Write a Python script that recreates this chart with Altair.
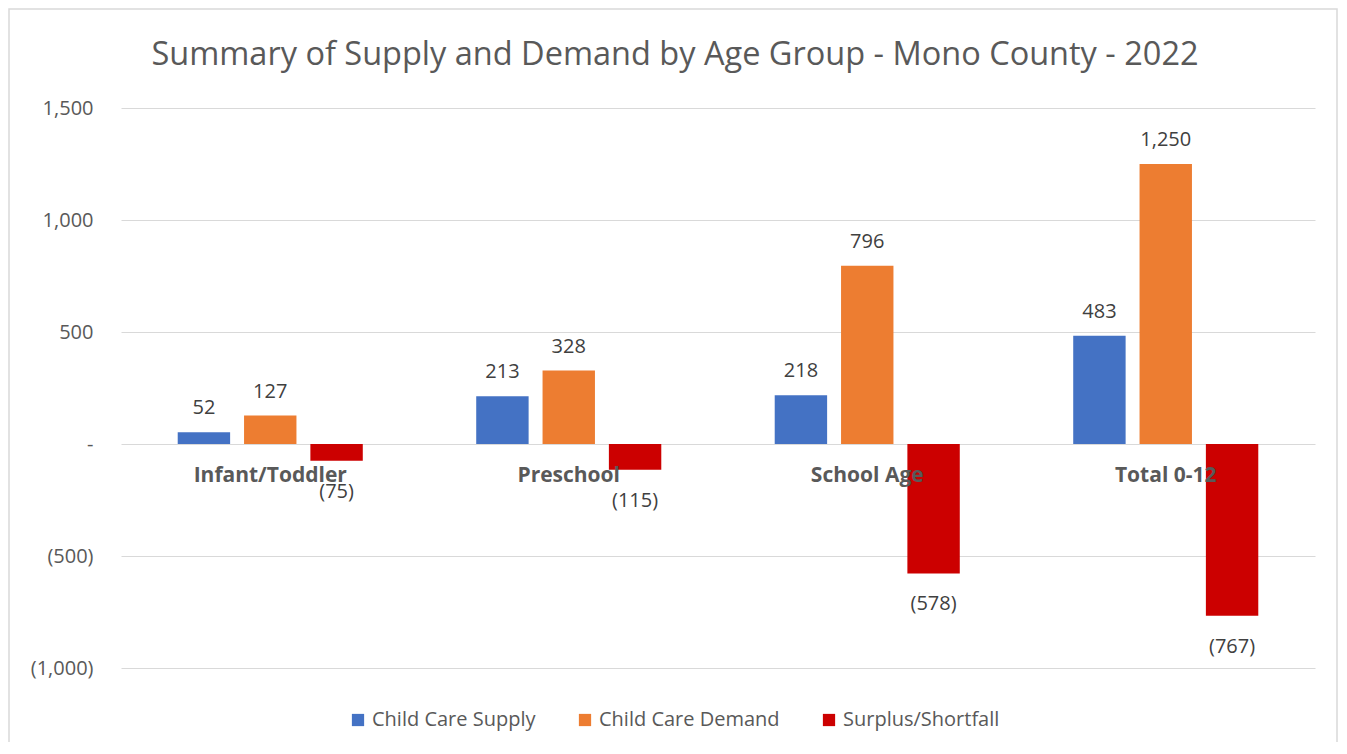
import altair as alt
import pandas as pd

categories = ["Infant/Toddler", "Preschool", "School Age", "Total 0-12"]
series_names = ["Child Care Supply", "Child Care Demand", "Surplus/Shortfall"]
supply = [52, 213, 218, 483]
demand = [127, 328, 796, 1250]
surplus = [-75, -115, -578, -767]
colors = ["#4472C4", "#ED7D31", "#CC0000"]
y_ticks = [-1000, -500, 0, 500, 1000, 1500]
title_text = "Summary of Supply and Demand by Age Group - Mono County - 2022"

rows = []
for name, vals in zip(series_names, [supply, demand, surplus]):
    for c, v in zip(categories, vals):
        lab = f"{v:,}" if v >= 0 else f"({-v:,})"
        rows.append({"category": c, "series": name, "value": v, "label": lab})
df = pd.DataFrame(rows)

FONT = "Open Sans"
GREY = "#595959"
FS = 20

x_enc = alt.X("category:N", sort=categories, axis=None,
              scale=alt.Scale(paddingInner=0.38, paddingOuter=0.19))
xo_enc = alt.XOffset("series:N", sort=series_names,
                     scale=alt.Scale(paddingInner=0.21, paddingOuter=0))
y_scale = alt.Scale(domain=[-1000, 1500], nice=False)

base = alt.Chart(df)

bars = base.mark_bar().encode(
    x=x_enc,
    xOffset=xo_enc,
    y=alt.Y("value:Q", scale=y_scale, title=None,
            axis=alt.Axis(values=y_ticks, grid=True, gridColor="#d9d9d9",
                          gridWidth=1.2, domain=False, ticks=False,
                          labelFont=FONT, labelFontSize=FS, labelColor=GREY,
                          labelPadding=28,
                          labelExpr="datum.value == 0 ? '-' : (datum.value < 0 ? '(' + format(-datum.value, ',') + ')' : format(datum.value, ','))")),
    color=alt.Color("series:N", sort=series_names,
                    scale=alt.Scale(domain=series_names, range=colors),
                    legend=alt.Legend(title=None, orient="none", direction="horizontal",
                                      legendX=227, legendY=602,
                                      symbolType="square", symbolSize=150,
                                      symbolStrokeWidth=0, labelLimit=400,
                                      labelFont=FONT, labelFontSize=FS, labelColor=GREY,
                                      labelOffset=4, columnPadding=39)),
)

pos_labels = base.transform_filter("datum.value >= 0").mark_text(
    font=FONT, fontSize=FS, color="#404040", baseline="middle", dy=-24
).encode(x=x_enc, xOffset=xo_enc, y=alt.Y("value:Q", scale=y_scale), text="label:N")

neg_labels = base.transform_filter("datum.value < 0").mark_text(
    font=FONT, fontSize=FS, color="#404040", baseline="middle", dy=31
).encode(x=x_enc, xOffset=xo_enc, y=alt.Y("value:Q", scale=y_scale), text="label:N")

cat_df = pd.DataFrame({"category": categories, "zero": [0] * len(categories)})
cat_labels = alt.Chart(cat_df).mark_text(
    font=FONT, fontSize=21, fontWeight="bold", color=GREY, baseline="middle", dy=32
).encode(x=alt.X("category:N", sort=categories, axis=None,
                 scale=alt.Scale(paddingInner=0.38, paddingOuter=0.19)),
         y=alt.Y("zero:Q", scale=y_scale), text="category:N")

border = alt.Chart(pd.DataFrame({"a": [0]})).mark_rect(
    fillOpacity=0, stroke="#d9d9d9", strokeWidth=1.5
).encode(x=alt.value(-112), x2=alt.value(1216), y=alt.value(-99), y2=alt.value(680))

title = alt.Chart(pd.DataFrame({"t": [title_text]})).mark_text(
    font=FONT, fontSize=32.5, color=GREY, baseline="middle", align="center"
).encode(x=alt.value(554), y=alt.value(-53), text="t:N")

chart = alt.layer(border, bars, pos_labels, neg_labels, cat_labels, title).properties(
    width=1194, height=560,
    autosize=alt.AutoSizeParams(type="none"),
    padding={"left": 113, "top": 100, "right": 24, "bottom": 74},
).configure_view(stroke=None)

chart.save("out.html", embed_options={"renderer": "svg", "actions": False})
